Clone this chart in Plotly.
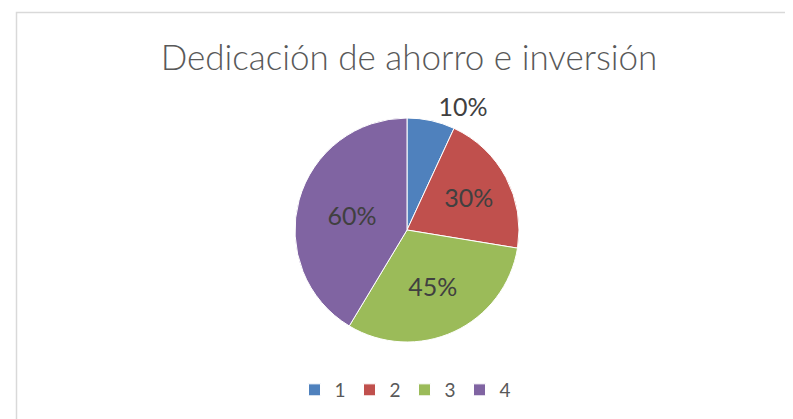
import plotly.graph_objects as go

categories = ["1", "2", "3", "4"]
values = [10, 30, 45, 60]
value_labels = ["10%", "30%", "45%", "60%"]
colors = ["#4F81BD", "#C0504D", "#9BBB59", "#8064A2"]

W, H = 793, 419

fig = go.Figure(go.Pie(
    labels=categories,
    values=values,
    text=value_labels,
    textinfo="text",
    textposition=["outside", "inside", "inside", "inside"],
    insidetextorientation="horizontal",
    textfont=dict(family="Lato", size=25, color="#404040"),
    marker=dict(colors=colors, line=dict(color="#FFFFFF", width=1)),
    sort=False,
    direction="clockwise",
    rotation=0,
    hoverinfo="label+value",
    domain=dict(x=[(399 - 112) / W, (399 + 112) / W],
                y=[1 - 334 / H, 1 - 110 / H]),
))

fig.update_layout(
    width=W, height=H,
    margin=dict(l=0, r=0, t=0, b=0),
    paper_bgcolor="white",
    plot_bgcolor="white",
    font=dict(family="Lato", color="#595959"),
    title=dict(text="Dedicación de ahorro e inversión",
               x=401 / W, xanchor="center",
               y=1 - 50 / H, yanchor="middle",
               font=dict(family="Lato", size=35, color="#595959", weight=300)),
    legend=dict(orientation="h", x=0.5, xanchor="center",
                y=1 - 382 / H, yanchor="middle",
                font=dict(family="Lato", size=19, color="#595959"),
                itemwidth=30, entrywidth=10, traceorder="normal"),
    showlegend=True,
    shapes=[dict(type="rect", xref="paper", yref="paper",
                 x0=8.5 / W, x1=1.02, y0=-0.02, y1=1 - 4.5 / H,
                 line=dict(color="#D9D9D9", width=1.5),
                 fillcolor="rgba(0,0,0,0)", layer="below")],
)

fig.write_html("out.html")
